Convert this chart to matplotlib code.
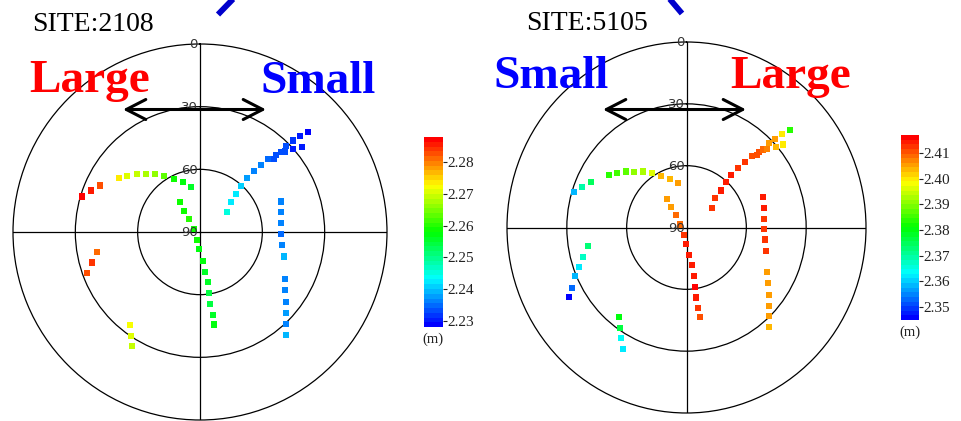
import numpy as np
import matplotlib
matplotlib.use("Agg")
import matplotlib.pyplot as plt
from matplotlib.colors import LinearSegmentedColormap, Normalize
from matplotlib.cm import ScalarMappable
from matplotlib.lines import Line2D
from matplotlib.patches import FancyArrowPatch

# ---- SITE:2108 (azimuth deg, elevation deg, value m), tracks one after another
az_2108 = [286.7, 290.7, 294.9, 303.6, 307.6, 312.2, 316.5, 321.9, 327.5, 333.3, 341.4, 349.1,
           325.7, 322.7, 319.1, 293.2, 198.6, 182.3, 174.0, 172.3, 171.2, 171.6, 172.1, 171.2, 171.3,
           53.9, 45.9, 43.9, 41.9, 41.6, 41.5, 42.4, 43.2, 45.6, 44.7, 45.4, 46.7, 45.0, 45.6, 46.4, 47.5, 50.2, 48.4,
           69.4, 76.4, 83.9, 91.4, 99.0, 106.2, 118.9, 124.1, 129.0, 133.0, 136.7, 139.9,
           259.0, 254.3, 250.3,
           217.2, 213.7, 210.8]
el_2108 = [30.9, 33.8, 37.1, 43.3, 45.8, 48.9, 52.0, 54.9, 58.0, 61.8, 64.8, 68.0,
           72.7, 77.3, 81.9, 86.7, 85.9, 81.7, 76.1, 70.9, 65.6, 60.5, 55.2, 49.9, 45.2,
           73.9, 69.4, 64.8, 60.3, 55.7, 51.0, 46.5, 42.0, 40.0, 38.0, 35.4, 33.8, 31.5, 27.4, 23.5, 19.3, 26.3, 30.0,
           48.5, 49.7, 50.6, 50.9, 49.9, 48.0, 43.5, 40.4, 36.7, 33.4, 29.6, 25.8,
           39.4, 36.0, 32.4,
           34.3, 30.2, 26.3]
val_2108 = [2.287, 2.285, 2.282, 2.274, 2.270, 2.269, 2.268, 2.266, 2.264, 2.259, 2.257, 2.256,
            2.259, 2.259, 2.260, 2.259, 2.258, 2.257, 2.257, 2.256, 2.256, 2.255, 2.255, 2.256, 2.257,
            2.246, 2.243, 2.242, 2.240, 2.238, 2.237, 2.236, 2.235, 2.234, 2.234, 2.233, 2.233, 2.233, 2.232, 2.231, 2.228, 2.230, 2.231,
            2.237, 2.237, 2.236, 2.235, 2.236, 2.239, 2.237, 2.236, 2.237, 2.238, 2.237, 2.239,
            2.281, 2.284, 2.283,
            2.272, 2.270, 2.269]
ticks_2108 = [2.23, 2.24, 2.25, 2.26, 2.27, 2.28]
range_2108 = (2.228, 2.288)

# ---- SITE:5105
az_5105 = [286.8, 290.6, 294.7, 303.2, 307.4, 311.9, 315.9, 321.3, 326.9, 333.2, 341.1, 348.8,
           324.8, 323.2, 318.4, 295.2, 202.5, 181.8, 174.0, 171.9, 171.0, 171.6, 172.0, 171.4, 171.4,
           53.4, 45.7, 43.9, 41.8, 41.4, 41.8, 42.5, 43.4, 45.1, 44.6, 45.3, 46.6, 45.3, 45.9, 46.6, 47.7, 50.2, 48.8,
           69.0, 76.1, 83.6, 91.2, 98.4, 105.8, 118.3, 123.5, 128.4, 132.6, 136.2, 139.4,
           259.5, 254.8, 250.5, 247.1, 243.0, 240.1,
           217.7, 214.3, 211.3, 208.4]
el_5105 = [31.1, 34.0, 37.3, 43.7, 46.4, 49.3, 52.2, 55.2, 58.4, 62.0, 64.9, 68.1,
           72.8, 77.3, 81.8, 86.6, 86.3, 81.9, 76.6, 71.4, 66.1, 60.9, 55.7, 50.5, 46.0,
           74.1, 69.8, 65.1, 60.5, 56.0, 51.2, 46.8, 42.4, 39.9, 38.5, 36.2, 34.5, 31.8, 28.0, 23.9, 19.8, 27.1, 30.6,
           49.1, 50.1, 51.0, 51.3, 50.2, 48.4, 44.0, 41.0, 37.4, 34.0, 30.4, 26.7,
           39.6, 36.2, 32.7, 29.3, 25.4, 22.2,
           35.0, 31.1, 27.0, 22.8]
val_5105 = [2.359, 2.369, 2.374, 2.383, 2.385, 2.388, 2.391, 2.392, 2.396, 2.403, 2.404, 2.405,
            2.405, 2.405, 2.408, 2.409, 2.412, 2.414, 2.415, 2.415, 2.415, 2.416, 2.415, 2.412, 2.411,
            2.413, 2.413, 2.414, 2.415, 2.414, 2.413, 2.412, 2.411, 2.410, 2.410, 2.408, 2.407, 2.406, 2.405, 2.400, 2.384, 2.400, 2.403,
            2.414, 2.414, 2.413, 2.413, 2.413, 2.412, 2.405, 2.405, 2.405, 2.405, 2.405, 2.404,
            2.373, 2.368, 2.363, 2.359, 2.354, 2.345,
            2.380, 2.377, 2.364, 2.363]
ticks_5105 = [2.35, 2.36, 2.37, 2.38, 2.39, 2.40, 2.41]
range_5105 = (2.345, 2.417)

elev_labels = [0, 30, 60, 90]

cmap = LinearSegmentedColormap.from_list(
    "rb", ["#0000ff", "#00ffff", "#00ff00", "#ffff00", "#ff0000"], N=40)
SERIF = "Liberation Serif"

W, H = 961, 421
fig = plt.figure(figsize=(W / 100, H / 100), dpi=100)


def box(l, t, r, b):
    # pixel box (top-left origin) -> figure fraction rect
    return [l / W, 1 - b / H, (r - l) / W, (b - t) / H]


def fpt(x, y):
    return (x / W, 1 - y / H)


def skyplot(rect, az, el, val, vrange):
    ax = fig.add_axes(rect, projection="polar")
    ax.set_theta_zero_location("N")
    ax.set_theta_direction(-1)
    ax.set_aspect("auto")
    ax.set_ylim(0, 90)
    ax.set_rgrids([30, 60], labels=["", ""])
    ax.set_thetagrids([0, 90, 180, 270], labels=["", "", "", ""])
    ax.grid(True, color="black", lw=0.9)
    ax.spines["polar"].set_color("black")
    ax.spines["polar"].set_linewidth(0.9)
    ax.scatter(np.radians(az), 90 - np.array(el), c=val, cmap=cmap,
               vmin=vrange[0], vmax=vrange[1], marker="s", s=19,
               linewidths=0, zorder=3)
    for e in elev_labels:
        ax.annotate(str(e), xy=(0, 90 - e), xytext=(-1.5, -0.5),
                    textcoords="offset points", ha="right", va="center",
                    fontsize=9.5, color="#333333", annotation_clip=False)
    return ax


def colorbar(rect, vrange, ticks, unit_xy):
    cax = fig.add_axes(rect)
    cb = fig.colorbar(ScalarMappable(Normalize(*vrange), cmap), cax=cax, ticks=ticks)
    cb.outline.set_visible(False)
    cb.set_ticklabels([f"{t:.2f}" for t in ticks])
    cax.tick_params(length=3, width=0.8, pad=0.5, labelsize=11, colors="#222222")
    for lb in cax.get_yticklabels():
        lb.set_family(SERIF)
    fig.text(*fpt(*unit_xy), "(m)", ha="center", va="center",
             fontsize=10.5, family=SERIF, color="#222222")


skyplot(box(13, 44, 387, 420), az_2108, el_2108, val_2108, range_2108)
skyplot(box(507, 42, 866, 413), az_5105, el_5105, val_5105, range_5105)

colorbar(box(424, 137, 443, 327), range_2108, ticks_2108, (433, 339))
colorbar(box(901, 135, 919, 320), range_5105, ticks_5105, (910, 332))

# titles
fig.text(*fpt(32, 31), "SITE:2108", fontsize=20, family=SERIF, va="baseline")
fig.text(*fpt(526, 30.5), "SITE:5105", fontsize=20, family=SERIF, va="baseline")

# Large / Small annotations
big = dict(fontsize=34, family=SERIF, weight="bold", va="baseline")
fig.text(*fpt(29, 92), "Large", color="#ff0000", **big)
fig.text(*fpt(260, 93), "Small", color="#0000ff", **big)
fig.text(*fpt(493, 88), "Small", color="#0000ff", **big)
fig.text(*fpt(730, 88), "Large", color="#ff0000", **big)

# double arrows
for x0, x1 in [(123, 266), (603, 746)]:
    fig.add_artist(FancyArrowPatch(fpt(x0, 109.5), fpt(x1, 109.5), transform=fig.transFigure,
                                   arrowstyle="<->,head_length=0.7,head_width=0.36",
                                   mutation_scale=20, lw=2.2, color="black",
                                   shrinkA=0, shrinkB=0))

# blue pointer bars cut by the top edge
for (xa, ya), (xb, yb) in [((235, -3), (218, 14.5)), ((668, -3), (682, 13.5))]:
    pa, pb = fpt(xa, ya), fpt(xb, yb)
    fig.add_artist(Line2D([pa[0], pb[0]], [pa[1], pb[1]], transform=fig.transFigure,
                          color="#0000cc", lw=4.2, solid_capstyle="butt"))

fig.savefig("out.png", dpi=100, facecolor="white")
